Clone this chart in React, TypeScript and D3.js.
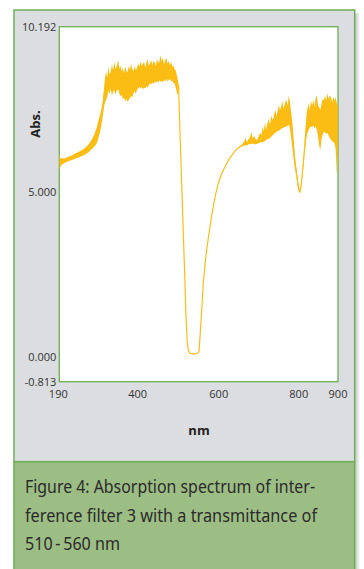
import React from "react";
import * as d3 from "d3";

const wavelengths = [
  190, 193, 197, 202, 208, 215, 222, 230, 237, 243, 249, 255, 261, 267, 273, 278, 282, 286, 289, 292, 295, 298, 301, 304, 306, 309,
  312, 315, 318, 321, 324, 327, 330, 333, 336, 340, 343, 346, 349, 352, 355, 358, 361, 364, 367, 370, 373, 376, 379, 382, 385, 388,
  391, 394, 397, 400, 403, 406, 409, 412, 415, 418, 421, 424, 427, 430, 433, 436, 439, 442, 445, 448, 451, 454, 457, 460, 463, 466,
  469, 472, 475, 478, 481, 484, 487, 491, 494,
  497.5, 501.8, 505.9, 510.2, 512.8, 516.1, 519, 523, 530, 536, 542, 546, 548.5, 552.8, 556.9, 561, 565.5, 570, 573.9, 578, 582.3,
  588, 595.1, 603, 612.1, 622, 633.3, 644, 654.7,
  660, 665, 668, 672, 676, 680, 683, 686, 690, 694, 698, 701, 705, 708, 711, 714, 717, 720, 723, 727, 730, 733, 736, 740, 743, 746,
  749, 752, 755, 758, 761, 765, 768, 771, 775, 778, 781, 784, 787, 790, 794, 798, 801, 803, 806, 809, 812, 815, 818, 821, 825, 828,
  831, 834, 837, 840, 843, 846, 849, 852, 855, 858, 861, 864, 867, 870, 873, 876, 879, 882, 885, 888, 891, 894, 897, 900,
];

const upperAbs = [
  6.28, 6.1, 6.12, 6.1, 6.14, 6.17, 6.2, 6.26, 6.3, 6.34, 6.38, 6.43, 6.5, 6.58, 6.7, 6.82, 6.95, 7.1, 7.25, 7.38, 7.52, 7.68, 7.92, 8.3, 8.55, 8.8,
  8.62, 8.95, 8.7, 8.8, 9.02, 8.84, 9.1, 8.88, 8.96, 9.16, 8.9, 8.98, 8.8, 8.92, 8.76, 8.96, 8.82, 8.78, 8.98, 8.86, 9.04, 8.88, 8.8, 8.97, 8.84, 8.92,
  9.06, 8.94, 9.12, 8.98, 9.04, 9.1, 8.92, 9.08, 9.18, 8.98, 9.06, 9.16, 9.0, 9.14, 9.08, 8.98, 9.2, 9.06, 9.12, 9.31, 9.12, 9.24, 9.02, 9.16, 9.22, 9.04,
  9.14, 9.0, 9.1, 8.95, 8.98, 8.88, 8.82, 8.6, 8.4,
  6.89, 5.34, 3.79, 2.24, 1.2, 0.39, 0.15, 0.07, 0.05, 0.05, 0.07, 0.12, 0.58, 1.41, 2.24, 2.8, 3.27, 3.68, 3.99, 4.33, 4.61,
  4.99, 5.34, 5.62, 5.85, 6.07, 6.27, 6.42, 6.53,
  6.62, 6.74, 6.6, 6.7, 6.78, 6.92, 6.7, 6.82, 6.7, 6.68, 6.8, 6.9, 6.84, 7.1, 6.95, 7.22, 7.0, 7.18, 7.34, 7.15, 7.45, 7.3, 7.38, 7.62, 7.42, 7.55,
  7.78, 7.6, 7.7, 7.9, 7.65, 7.82, 7.95, 7.75, 8.07, 7.8, 7.5, 7.2, 6.7, 6.2, 5.8, 5.4, 5.15, 5.1, 5.3, 5.7, 6.1, 6.6, 7.2, 7.6, 7.82, 7.6,
  7.9, 7.75, 7.92, 7.7, 7.98, 8.07, 7.75, 7.7, 7.61, 7.8, 7.95, 7.92, 8.05, 7.9, 8.14, 7.95, 8.05, 8.01, 7.85, 8.02, 7.9, 8.01, 7.8, 7.76,
];

const lowerAbs = [
  5.75, 5.85, 5.92, 5.96, 6.0, 6.03, 6.06, 6.1, 6.13, 6.16, 6.19, 6.22, 6.27, 6.33, 6.4, 6.46, 6.52, 6.6, 6.7, 6.85, 7.0, 7.2, 7.45, 7.7, 7.83, 7.92,
  8.0, 8.22, 8.1, 8.28, 8.05, 8.18, 8.22, 8.08, 8.2, 8.25, 8.12, 8.02, 8.08, 7.94, 7.99, 7.88, 7.95, 7.86, 7.93, 7.98, 8.04, 8.0, 8.14, 8.2, 8.1, 8.24,
  8.28, 8.32, 8.28, 8.32, 8.25, 8.3, 8.28, 8.35, 8.3, 8.38, 8.44, 8.4, 8.46, 8.42, 8.49, 8.45, 8.5, 8.46, 8.53, 8.48, 8.52, 8.48, 8.53, 8.5, 8.56, 8.5,
  8.54, 8.56, 8.5, 8.52, 8.45, 8.42, 8.3, 8.05, 8.3,
  6.89, 5.34, 3.79, 2.24, 1.2, 0.39, 0.15, 0.07, 0.05, 0.05, 0.07, 0.12, 0.58, 1.41, 2.24, 2.8, 3.27, 3.68, 3.99, 4.33, 4.61,
  4.99, 5.34, 5.62, 5.85, 6.07, 6.27, 6.42, 6.48,
  6.5, 6.52, 6.5, 6.55, 6.56, 6.55, 6.58, 6.55, 6.55, 6.56, 6.58, 6.6, 6.62, 6.6, 6.63, 6.65, 6.68, 6.7, 6.72, 6.74, 6.78, 6.82, 6.86, 6.9, 6.93, 6.95,
  6.97, 6.99, 7.02, 7.05, 7.05, 7.09, 7.1, 7.12, 7.15, 7.0, 6.7, 6.4, 6.1, 5.8, 5.55, 5.2, 5.08, 5.05, 5.2, 5.55, 5.9, 6.3, 6.6, 6.85, 6.99, 7.05,
  7.1, 7.08, 7.14, 7.05, 7.1, 7.0, 6.8, 6.5, 6.37, 6.7, 6.85, 6.95, 6.9, 6.88, 6.9, 6.82, 6.75, 6.68, 6.65, 6.62, 6.58, 6.4, 5.59, 6.6,
];

const yTicks = [10.192, 5.0, 0.0, -0.813];
const xTicks = [190, 400, 600, 800, 900];
const xTitle = "nm";
const yTitle = "Abs.";
const captionLines = [
  "Figure 4: Absorption spectrum of inter-",
  "ference filter 3 with a transmittance of",
  "510\u2009-\u2009560 nm",
];
const captionWidths = [290, 292, 95];

const W = 364;
const H = 569;
const plot = { left: 59.3, top: 26.7, right: 338, bottom: 381.7 };
const frame = { left: 14, top: 10, right: 354.7, captionTop: 461.7 };
const green = "#6cae55";
const panelGray = "#dcdde0";
const captionGreen = "#9cbe84";
const lineColor = "#fbbd14";
const tickFont = "'Open Sans', 'Noto Sans', sans-serif";

export default function App() {
  const x = d3.scaleLinear().domain([190, 900]).range([plot.left, plot.right]);
  const y = d3.scaleLinear().domain([-0.813, 10.192]).range([plot.bottom, plot.top]);

  const data = wavelengths.map((w, i) => ({ w, hi: upperAbs[i], lo: lowerAbs[i] }));
  const area = d3
    .area<{ w: number; hi: number; lo: number }>()
    .x((d) => x(d.w))
    .y0((d) => y(d.lo))
    .y1((d) => y(d.hi));
  const mid = d3
    .line<{ w: number; hi: number; lo: number }>()
    .x((d) => x(d.w))
    .y((d) => y((d.hi + d.lo) / 2));

  return (
    <div style={{ position: "fixed", left: 0, top: 0, width: W, height: H, background: "#fff" }}>
      <svg width={W} height={H} style={{ display: "block" }}>
        <defs>
          <linearGradient id="shadow" x1="0" x2="1" y1="0" y2="0">
            <stop offset="0" stopColor="#c4c5c8" />
            <stop offset="1" stopColor="#ffffff" />
          </linearGradient>
          <clipPath id="plotClip">
            <rect x={plot.left} y={plot.top} width={plot.right - plot.left} height={plot.bottom - plot.top} />
          </clipPath>
        </defs>
        <rect x={frame.right + 0.5} y={frame.top + 3} width={5} height={H - frame.top} fill="url(#shadow)" />
        <rect
          x={frame.left}
          y={frame.top}
          width={frame.right - frame.left}
          height={frame.captionTop - frame.top}
          fill={panelGray}
          stroke={green}
          strokeWidth={1.5}
        />
        <rect
          x={frame.left}
          y={frame.captionTop}
          width={frame.right - frame.left}
          height={H - frame.captionTop + 5}
          fill={captionGreen}
          stroke={green}
          strokeWidth={1.5}
        />
        <rect
          x={plot.left}
          y={plot.top}
          width={plot.right - plot.left}
          height={plot.bottom - plot.top}
          fill="#ffffff"
          stroke={green}
          strokeWidth={1.3}
        />
        <g clipPath="url(#plotClip)">
          <path d={area(data) || ""} fill={lineColor} stroke="none" />
          <path d={mid(data) || ""} fill="none" stroke={lineColor} strokeWidth={1.2} />
        </g>
        {yTicks.map((t) => (
          <text
            key={t}
            x={plot.left - 3}
            y={y(t) + (t === 5 ? -2 : t === 0 ? 2 : 0)}
            dy="0.35em"
            textAnchor="end"
            fontFamily={tickFont}
            fontSize={11}
            fill="#333"
          >
            {t.toFixed(3)}
          </text>
        ))}
        {xTicks.map((t) => (
          <text
            key={t}
            x={x(t) + (t === 190 ? -1 : t === 400 ? -4 : t === 600 ? -1.5 : 0)}
            y={394}
            dy="0.35em"
            textAnchor="middle"
            fontFamily={tickFont}
            fontSize={11}
            fill="#333"
          >
            {t}
          </text>
        ))}
        <text
          x={199}
          y={430}
          dy="0.35em"
          textAnchor="middle"
          fontFamily={tickFont}
          fontWeight="bold"
          fontSize={13}
          fill="#222"
        >
          {xTitle}
        </text>
        <text
          transform={`translate(35,124) rotate(-90)`}
          dy="0.35em"
          textAnchor="middle"
          fontFamily={tickFont}
          fontWeight="bold"
          fontSize={13}
          fill="#222"
        >
          {yTitle}
        </text>
        {captionLines.map((line, i) => (
          <text
            key={i}
            x={25}
            y={493 + i * 28.5}
            fontFamily="'Noto Sans', sans-serif"
            fontSize={17.5}
            textLength={captionWidths[i]}
            lengthAdjust="spacingAndGlyphs"
            fill="#2b2b2b"
          >
            {line}
          </text>
        ))}
      </svg>
    </div>
  );
}
